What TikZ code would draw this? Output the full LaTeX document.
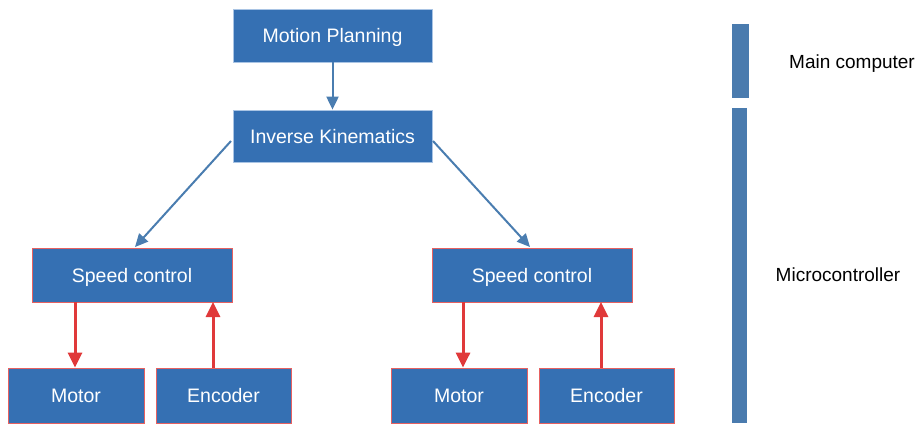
\documentclass[tikz,border=0pt]{standalone}
\usepackage{fontspec}
\setmainfont{Liberation Sans}
\usetikzlibrary{arrows.meta}
\definecolor{boxblue}{HTML}{3570B3}
\definecolor{barblue}{HTML}{4A7BAE}
\definecolor{arrowblue}{HTML}{4A7DB0}
\definecolor{redline}{HTML}{E0393A}
\definecolor{lightedge}{HTML}{A9C4E4}
\tikzset{
  blk/.style={rectangle, fill=boxblue, draw=lightedge, line width=0.8pt, text=white, font=\fontsize{19.5}{22}\selectfont, inner sep=0pt, text height=14pt, text depth=0pt},
  redblk/.style={blk, draw=redline!80},
  bluearrow/.style={draw=arrowblue, line width=2pt, -{Triangle[length=13pt,width=12pt]}},
  redarrow/.style={draw=redline, line width=3pt, -{Triangle[length=15pt,width=14pt]}},
  bar/.style={fill=barblue, draw=none},
  lbl/.style={text=black, font=\fontsize{19}{22}\selectfont, inner sep=0pt, text height=13.6pt, text depth=0pt}
}
\begin{document}
\begin{tikzpicture}[x=1pt,y=-1pt]
\useasboundingbox (0,0) rectangle (920,424);
\node[blk, minimum width=199pt, minimum height=53pt] (mp) at (332.5,35.5) {Motion Planning};
\node[blk, minimum width=199pt, minimum height=52pt] (ik) at (332.5,136) {Inverse Kinematics};
\node[redblk, minimum width=200pt, minimum height=54pt] (scl) at (132,275) {Speed control};
\node[redblk, minimum width=200pt, minimum height=54pt] (scr) at (532,275) {Speed control};
\node[redblk, minimum width=136pt, minimum height=55pt] (ml) at (76,395.5) {Motor};
\node[redblk, minimum width=135pt, minimum height=55pt] (el) at (223.5,395.5) {Encoder};
\node[redblk, minimum width=136pt, minimum height=55pt] (mr) at (459,395.5) {Motor};
\node[redblk, minimum width=135pt, minimum height=55pt] (er) at (606.5,395.5) {Encoder};
\draw[bluearrow] (mp.south) -- (ik.north);
\coordinate (ikl) at (231,141);
\coordinate (ikr) at (433,141);
\coordinate (scltop) at (135,247);
\coordinate (scrtop) at (530,247);
\draw[bluearrow] (ikl) -- (scltop);
\draw[bluearrow] (ikr) -- (scrtop);
\draw[redarrow] (75,302) -- (ml.north -| 75,0);
\draw[redarrow] (el.north -| 213,0) -- (213,302);
\draw[redarrow] (463,302) -- (mr.north -| 463,0);
\draw[redarrow] (er.north -| 601,0) -- (601,302);
\path[bar] (732,24) rectangle (749,98);
\path[bar] (732,108) rectangle (747,423);
\node[lbl] (mc) at (852,62) {Main computer};
\node[lbl] (uc) at (838,275) {Microcontroller};
\end{tikzpicture}
\end{document}
